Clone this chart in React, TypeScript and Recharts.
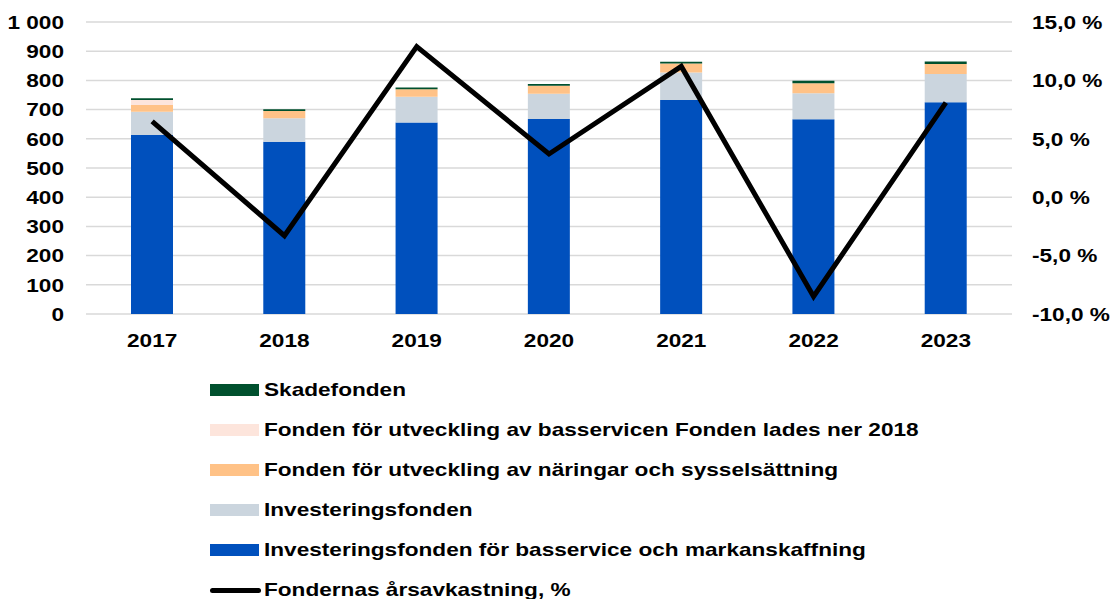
import React from "react";
import {
  ComposedChart,
  CartesianGrid,
  XAxis,
  YAxis,
  Bar,
  Line,
} from "recharts";

const years = ["2017", "2018", "2019", "2020", "2021", "2022", "2023"];
const basservice = [613, 590, 656, 668, 733, 667, 725];
const investering = [80, 80, 88, 86, 94, 89, 97];
const naringar = [23, 25, 26, 28, 31, 34, 34];
const utvBasservice = [17, 0, 0, 0, 0, 0, 0];
const skade = [6, 6, 6, 6, 6, 9, 9];
const avkastning = [6.5, -3.3, 12.9, 3.7, 11.2, -8.5, 8.1];

const leftTicks = [0, 100, 200, 300, 400, 500, 600, 700, 800, 900, 1000];
const rightTicks = [-10, -5, 0, 5, 10, 15];

const COLORS = {
  basservice: "#0050bd",
  investering: "#cbd5de",
  naringar: "#ffc287",
  utvBasservice: "#fde5dc",
  skade: "#00502e",
  line: "#000000",
  grid: "#d9d9d9",
};

const legendItems = [
  { label: "Skadefonden", color: COLORS.skade, kind: "bar" },
  { label: "Fonden för utveckling av basservicen Fonden lades ner 2018", color: COLORS.utvBasservice, kind: "bar" },
  { label: "Fonden för utveckling av näringar och sysselsättning", color: COLORS.naringar, kind: "bar" },
  { label: "Investeringsfonden", color: COLORS.investering, kind: "bar" },
  { label: "Investeringsfonden för basservice och markanskaffning", color: COLORS.basservice, kind: "bar" },
  { label: "Fondernas årsavkastning, %", color: COLORS.line, kind: "line" },
];

const data = years.map((year, i) => ({
  year,
  basservice: basservice[i],
  investering: investering[i],
  naringar: naringar[i],
  utvBasservice: utvBasservice[i],
  skade: skade[i],
  avkastning: avkastning[i],
}));

const FONT = '"Liberation Sans", Arial, sans-serif';
const FONT_SIZE = 19;
const STRETCH = 1.19; // the original text is a bit wide

const fmtLeft = (v: number) => (v >= 1000 ? "1 000" : String(v));
const fmtRight = (v: number) => v.toFixed(1).replace(".", ",") + " %";

// wide bold tick text
function WideTick(props: any) {
  const { x, y, payload, textAnchor, tickFormatter, dy } = props;
  const label = tickFormatter ? tickFormatter(payload.value) : payload.value;
  return (
    <g transform={`translate(${x},${y})`}>
      <text
        transform={`scale(${STRETCH},1)`}
        textAnchor={textAnchor}
        dy={dy ?? "0.355em"}
        fontFamily={FONT}
        fontSize={FONT_SIZE}
        fontWeight={700}
        fill="#000"
      >
        {label}
      </text>
    </g>
  );
}

export default function App() {
  return (
    <div
      style={{
        position: "absolute",
        left: 0,
        top: 0,
        width: 1110,
        height: 599,
        background: "#fff",
        overflow: "hidden",
        fontFamily: FONT,
      }}
    >
      <ComposedChart
        width={1110}
        height={360}
        data={data}
        margin={{ top: 22, right: 0, bottom: 0, left: 0 }}
        barSize={42}
      >
        <CartesianGrid yAxisId="left" vertical={false} stroke={COLORS.grid} strokeWidth={1.5} />
        <XAxis
          dataKey="year"
          height={46}
          axisLine={false}
          tickLine={false}
          tick={(p: any) => <WideTick {...p} textAnchor="middle" dy="0.71em" />}
          tickMargin={14}
        />
        <YAxis
          yAxisId="left"
          width={86}
          domain={[0, 1000]}
          ticks={leftTicks}
          axisLine={false}
          tickLine={false}
          tick={(p: any) => <WideTick {...p} tickFormatter={fmtLeft} textAnchor="end" />}
          tickMargin={16}
          interval={0}
        />
        <YAxis
          yAxisId="right"
          orientation="right"
          width={98}
          domain={[-10, 15]}
          ticks={rightTicks}
          axisLine={false}
          tickLine={false}
          tick={(p: any) => <WideTick {...p} tickFormatter={fmtRight} textAnchor="start" />}
          tickMargin={14}
          interval={0}
        />
        <Bar yAxisId="left" dataKey="basservice" stackId="a" fill={COLORS.basservice} isAnimationActive={false} />
        <Bar yAxisId="left" dataKey="investering" stackId="a" fill={COLORS.investering} isAnimationActive={false} />
        <Bar yAxisId="left" dataKey="naringar" stackId="a" fill={COLORS.naringar} isAnimationActive={false} />
        <Bar yAxisId="left" dataKey="utvBasservice" stackId="a" fill={COLORS.utvBasservice} isAnimationActive={false} />
        <Bar yAxisId="left" dataKey="skade" stackId="a" fill={COLORS.skade} isAnimationActive={false} />
        <Line
          yAxisId="right"
          type="linear"
          dataKey="avkastning"
          stroke={COLORS.line}
          strokeWidth={5}
          dot={false}
          activeDot={false}
          isAnimationActive={false}
        />
      </ComposedChart>

      {/* legend */}
      {legendItems.map((item, i) => (
        <div
          key={item.label}
          style={{
            position: "absolute",
            left: 210,
            top: 390 + i * 40 - 14,
            height: 28,
            display: "flex",
            alignItems: "center",
            whiteSpace: "nowrap",
          }}
        >
          {item.kind === "bar" ? (
            <div style={{ width: 49, height: 12, background: item.color, marginRight: 5 }} />
          ) : (
            <div style={{ width: 51, height: 5, borderRadius: 3, background: item.color, marginRight: 3 }} />
          )}
          <span
            style={{
              display: "inline-block",
              fontSize: FONT_SIZE,
              fontWeight: 700,
              color: "#000",
              transform: `scaleX(${STRETCH})`,
              transformOrigin: "left center",
            }}
          >
            {item.label}
          </span>
        </div>
      ))}
    </div>
  );
}
